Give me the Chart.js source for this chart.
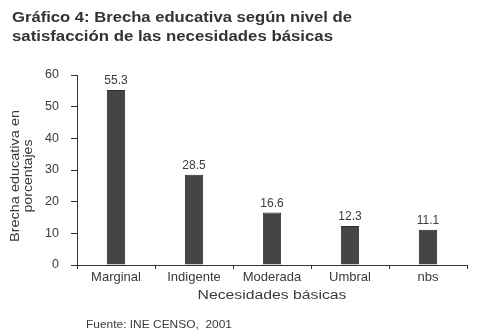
<!DOCTYPE html>
<html>
<head>
<meta charset="utf-8">
<script src="https://cdn.jsdelivr.net/npm/chart.js@4"></script>
<style>
html,body{margin:0;padding:0;background:#fff;}
#wrap{width:477px;height:336px;position:relative;}
</style>
</head>
<body>
<div id="wrap"><canvas id="c" width="477" height="336"></canvas></div>
<script>
const titleLines = ["Gráfico 4: Brecha educativa según nivel de", "satisfacción de las necesidades básicas"];
const categories = ["Marginal", "Indigente", "Moderada", "Umbral", "nbs"];
const values = [55.3, 28.5, 16.6, 12.3, 11.1];
const yTicks = [0, 10, 20, 30, 40, 50, 60];
const yTitle = ["Brecha educativa en", "porcentajes"];
const xTitle = "Necesidades básicas";
const sourceText = "Fuente: INE CENSO,  2001";

const FONT = "'Liberation Sans', 'DejaVu Sans', sans-serif";
const TXT = "#3a3a3a";

// draw text horizontally stretched to a given width (left or center aligned)
function fillStretched(ctx, text, x, y, width, align) {
  const w = ctx.measureText(text).width;
  const s = width / w;
  ctx.save();
  ctx.translate(x, y);
  ctx.scale(s, 1);
  ctx.textAlign = align;
  ctx.fillText(text, 0, 0);
  ctx.restore();
}

const extras = {
  id: 'extras',
  afterDraw(chart) {
    const ctx = chart.ctx;
    const ca = chart.chartArea;
    ctx.save();
    // title
    ctx.fillStyle = "#333";
    ctx.font = "bold 15px " + FONT;
    ctx.textBaseline = "alphabetic";
    fillStretched(ctx, titleLines[0], 12, 22, 340, "left");
    fillStretched(ctx, titleLines[1], 12, 41, 321, "left");
    // data labels
    ctx.font = "12px " + FONT;
    ctx.fillStyle = TXT;
    ctx.textAlign = "center";
    ctx.textBaseline = "bottom";
    const meta = chart.getDatasetMeta(0);
    meta.data.forEach((bar, i) => {
      ctx.fillText(values[i].toFixed(1), bar.x, bar.y - 3);
    });
    // y title
    ctx.font = "12.5px " + FONT;
    ctx.save();
    ctx.translate(16, 176);
    ctx.rotate(-Math.PI / 2);
    ctx.textBaseline = "middle";
    fillStretched(ctx, yTitle[0], 0, 0, 132, "center");
    fillStretched(ctx, yTitle[1], 0, 13, 73, "center");
    ctx.restore();
    // x title
    ctx.textBaseline = "middle";
    fillStretched(ctx, xTitle, (ca.left + ca.right) / 2, 296, 149, "center");
    // source
    ctx.font = "11.5px " + FONT;
    fillStretched(ctx, sourceText, 86, 324.5, 146, "left");
    ctx.restore();
  }
};

new Chart(document.getElementById('c'), {
  type: 'bar',
  data: {
    labels: categories,
    datasets: [{
      data: values,
      backgroundColor: "#454545",
      borderColor: "#2a2a2a",
      borderWidth: 1,
      categoryPercentage: 0.235,
      barPercentage: 1.0
    }]
  },
  options: {
    responsive: false,
    animation: false,
    devicePixelRatio: 1,
    layout: { padding: { left: 0, right: 10, top: 75, bottom: 41 } },
    plugins: { legend: { display: false }, tooltip: { enabled: false }, title: { display: false } },
    scales: {
      x: {
        offset: true,
        grid: { offset: true, drawOnChartArea: false, tickLength: 4, color: "#333", lineWidth: 1 },
        border: { display: true, color: "#333", width: 1 },
        ticks: { color: TXT, font: { size: 13, family: FONT }, padding: 1, maxRotation: 0, autoSkip: false },
        afterFit(s) { s.height = 30; }
      },
      y: {
        min: 0, max: 60,
        afterBuildTicks(s) { s.ticks = yTicks.map(v => ({ value: v })); },
        grid: { drawOnChartArea: false, tickLength: 6, color: "#333", lineWidth: 1 },
        border: { display: true, color: "#333", width: 1 },
        ticks: { color: TXT, font: { size: 12.5, family: FONT }, padding: 12 },
        afterFit(s) { s.width = 77; }
      }
    }
  },
  plugins: [extras]
});
</script>
</body>
</html>
